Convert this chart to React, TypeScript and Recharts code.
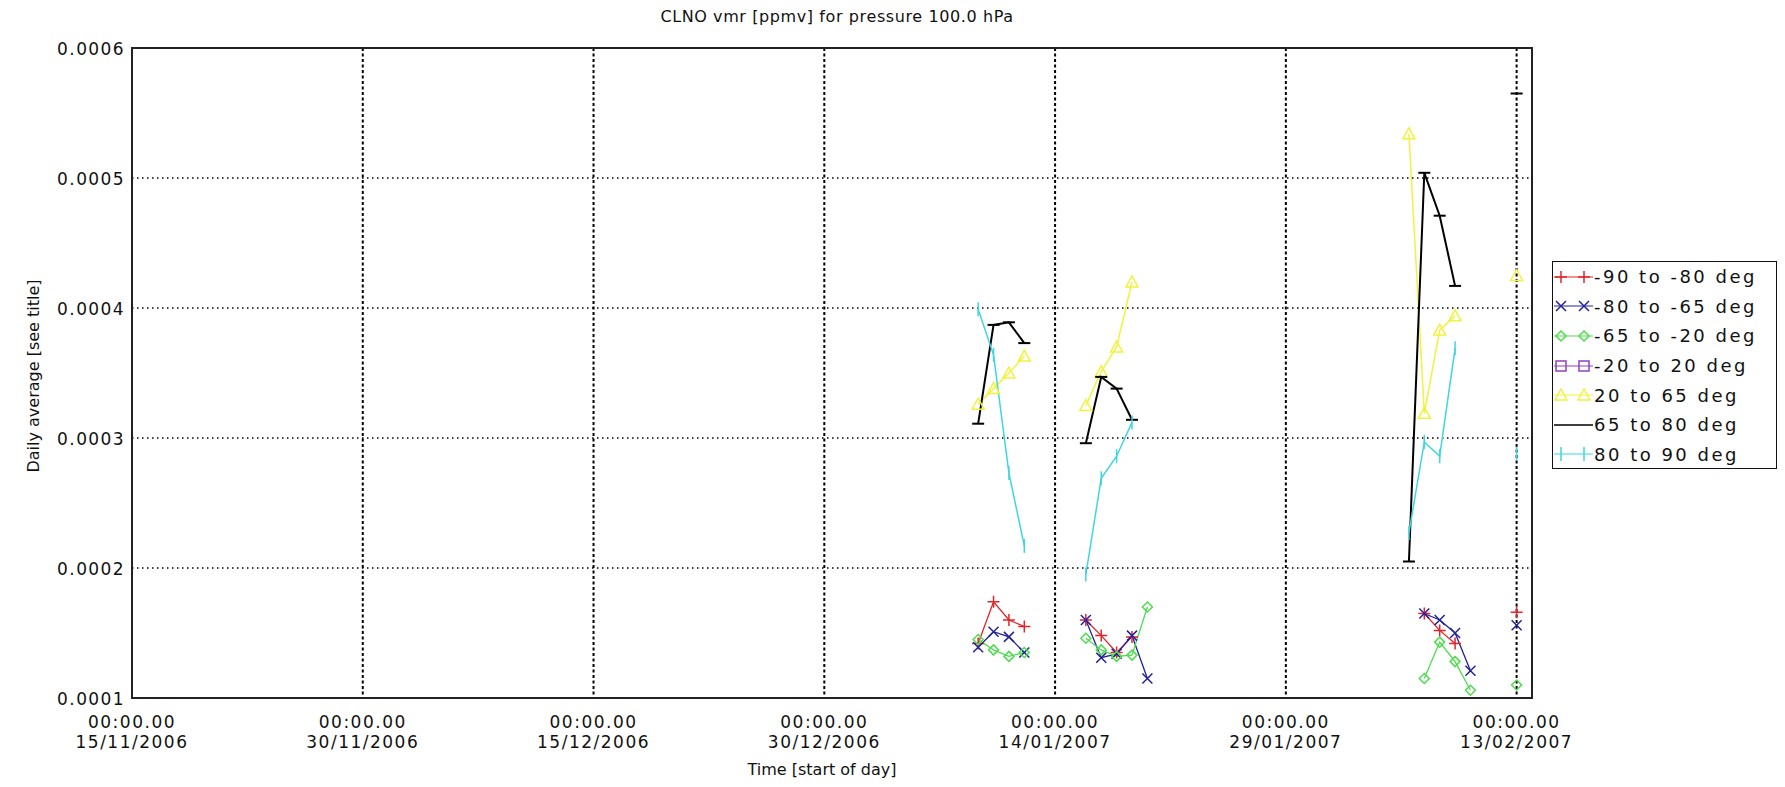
import React from 'react';
import { LineChart, Line, XAxis, YAxis, CartesianGrid, Legend, ReferenceArea } from 'recharts';

// day of each daily average (gap rows break the lines between passes)
const dates = [
  '09/01/2007', '10/01/2007', '11/01/2007', '12/01/2007', '13/01/2007',
  '16/01/2007', '17/01/2007', '18/01/2007', '19/01/2007', '20/01/2007', '21/01/2007',
  '06/02/2007', '07/02/2007', '08/02/2007', '09/02/2007', '10/02/2007', '11/02/2007',
  '13/02/2007',
];

const band90to80 = [0.000142, 0.000174, 0.00016, 0.000155, null, 0.00016, 0.000148, 0.000135, 0.000147, null, null, null, 0.000165, 0.000152, 0.000142, null, null, 0.000166];
const band80to65 = [0.000139, 0.000151, 0.000147, 0.000135, null, 0.00016, 0.000131, 0.000134, 0.000148, 0.000115, null, null, 0.000165, 0.00016, 0.00015, 0.000121, null, 0.000156];
const band65to20 = [0.000145, 0.000137, 0.000132, 0.000135, null, 0.000146, 0.000137, 0.000132, 0.000133, 0.00017, null, null, 0.000115, 0.000143, 0.000128, 0.000106, null, 0.00011];
const band20to20 = [null, null, null, null, null, null, null, null, null, null, null, null, null, null, null, null, null, null];
const band20to65 = [0.000326, 0.000338, 0.00035, 0.000363, null, 0.000325, 0.000351, 0.00037, 0.00042, null, null, 0.000534, 0.000319, 0.000383, 0.000394, null, null, 0.000425];
const band65to80 = [0.000311, 0.000387, 0.000389, 0.000373, null, 0.000296, 0.000347, 0.000338, 0.000314, null, null, 0.000205, 0.000504, 0.000471, 0.000417, null, null, 0.000565];
const band80to90 = [0.000399, 0.000364, 0.000273, 0.000217, null, 0.000195, 0.000269, 0.000286, 0.000312, null, null, 0.000227, 0.000297, 0.000286, 0.000369, null, null, 0.000288];

const tickDates = ['15/11/2006', '30/11/2006', '15/12/2006', '30/12/2006', '14/01/2007', '29/01/2007', '13/02/2007'];
const yTicks = [0.0001, 0.0002, 0.0003, 0.0004, 0.0005, 0.0006];

const toTime = (s: string) => {
  const [d, m, y] = s.split('/').map(Number);
  return Date.UTC(y, m - 1, d);
};

const series = [
  { key: 'b1', name: '-90 to -80 deg', color: '#e3242b', shape: 'plus', values: band90to80, width: 1.3 },
  { key: 'b2', name: '-80 to -65 deg', color: '#23239a', shape: 'cross', values: band80to65, width: 1.3 },
  { key: 'b3', name: '-65 to -20 deg', color: '#4fdc4f', shape: 'diamond', values: band65to20, width: 1.3 },
  { key: 'b4', name: '-20 to 20 deg', color: '#9040c0', shape: 'square', values: band20to20, width: 1.3 },
  { key: 'b5', name: '20 to 65 deg', color: '#f2f23c', shape: 'triangle', values: band20to65, width: 1.5 },
  { key: 'b6', name: '65 to 80 deg', color: '#000000', shape: 'hbar', values: band65to80, width: 2 },
  { key: 'b7', name: '80 to 90 deg', color: '#3fd6e0', shape: 'vbar', values: band80to90, width: 1.5 },
];

const data = dates.map((d, i) => {
  const row: Record<string, number | null> = { t: toTime(d) };
  series.forEach((s) => { row[s.key] = s.values[i]; });
  return row;
});

const xStart = toTime('15/11/2006');
const xEnd = toTime('14/02/2007');
const FONT = '"DejaVu Sans", sans-serif';

function Marker({ shape, x, y, color }: { shape: string; x: number; y: number; color: string }) {
  const p = { stroke: color, strokeWidth: 1.5, fill: 'none' };
  switch (shape) {
    case 'plus':
      return <path d={`M${x - 6},${y}H${x + 6}M${x},${y - 6}V${y + 6}`} {...p} />;
    case 'cross':
      return <path d={`M${x - 5},${y - 5}L${x + 5},${y + 5}M${x + 5},${y - 5}L${x - 5},${y + 5}`} {...p} />;
    case 'diamond':
      return <path d={`M${x},${y - 5}L${x + 5},${y}L${x},${y + 5}L${x - 5},${y}Z`} {...p} />;
    case 'square':
      return <rect x={x - 5} y={y - 5} width={10} height={10} {...p} />;
    case 'triangle':
      return <path d={`M${x},${y - 6}L${x + 6},${y + 5}L${x - 6},${y + 5}Z`} {...p} />;
    case 'hbar':
      return <path d={`M${x - 6},${y}H${x + 6}`} stroke={color} strokeWidth={2} />;
    case 'vbar':
      return <path d={`M${x},${y - 7}V${y + 7}`} {...p} />;
    default:
      return null;
  }
}

const makeDot = (shape: string, color: string) => (props: any) => {
  const { cx, cy, value, index } = props;
  if (value == null || cx == null || cy == null || Number.isNaN(cy)) return <g key={`e${index}`} />;
  return <Marker key={`m${index}`} shape={shape} x={cx} y={cy} color={color} />;
};

const XTick = ({ x, y, payload }: any) => {
  const d = new Date(payload.value);
  const dd = String(d.getUTCDate()).padStart(2, '0');
  const mm = String(d.getUTCMonth() + 1).padStart(2, '0');
  return (
    <text x={x} y={y} textAnchor="middle" fontSize={17} fontFamily={FONT} fill="#111" letterSpacing={1.5}>
      <tspan x={x} dy={30}>00:00.00</tspan>
      <tspan x={x} dy={20}>{`${dd}/${mm}/${d.getUTCFullYear()}`}</tspan>
    </text>
  );
};

const YTick = ({ x, y, payload }: any) => (
  <text x={x} y={y} dy={7} textAnchor="end" fontSize={17} fontFamily={FONT} fill="#111" letterSpacing={1.4}>
    {Number(payload.value).toFixed(4)}
  </text>
);

const renderLegend = () => (
  <div style={{ border: '1.5px solid #111', background: '#fff', width: 225, height: 208, boxSizing: 'border-box', paddingTop: 0 }}>
    {series.map((s) => (
      <div key={s.key} style={{ display: 'flex', alignItems: 'center', height: 29.6 }}>
        <svg width={41} height={20} style={{ display: 'block' }}>
          <line x1={1} y1={10} x2={40} y2={10} stroke={s.color} strokeWidth={s.shape === 'hbar' ? 1.5 : 1.2} />
          {s.shape !== 'hbar' && <Marker shape={s.shape} x={8} y={10} color={s.color} />}
          {s.shape !== 'hbar' && <Marker shape={s.shape} x={31} y={10} color={s.color} />}
        </svg>
        <span style={{ fontFamily: FONT, fontSize: 18, letterSpacing: 2.5, color: '#111', whiteSpace: 'nowrap' }}>{s.name}</span>
      </div>
    ))}
  </div>
);

export default function App() {
  return (
    <div style={{ position: 'absolute', left: 0, top: 0, width: 1785, height: 787, background: '#fff' }}>
      <LineChart width={1785} height={787} data={data} margin={{ top: 48, right: 253, bottom: 29, left: 32 }}>
        <CartesianGrid horizontal vertical={false} stroke="#000" strokeWidth={1.5} strokeDasharray="1.5 3.5" />
        <CartesianGrid horizontal={false} vertical stroke="#000" strokeWidth={2} strokeDasharray="3 2.5" />
        <XAxis
          dataKey="t"
          type="number"
          domain={[xStart, xEnd]}
          ticks={tickDates.map(toTime)}
          interval={0}
          allowDataOverflow
          tick={<XTick />}
          tickLine={false}
          axisLine={false}
          tickSize={0}
          tickMargin={0}
          height={60}
        />
        <YAxis
          type="number"
          domain={[0.0001, 0.0006]}
          ticks={yTicks}
          interval={0}
          allowDataOverflow
          tick={<YTick />}
          tickLine={false}
          axisLine={false}
          tickSize={0}
          tickMargin={7}
          width={100}
        />
        {series.map((s) => (
          <Line
            key={s.key}
            type="linear"
            dataKey={s.key}
            name={s.name}
            stroke={s.color}
            strokeWidth={s.width}
            dot={makeDot(s.shape, s.color)}
            activeDot={false}
            connectNulls={false}
            isAnimationActive={false}
          />
        ))}
        <ReferenceArea x1={xStart} x2={xEnd} y1={0.0001} y2={0.0006} fill="none" fillOpacity={0} stroke="#222" strokeWidth={2} />
        <Legend
          layout="vertical"
          align="center"
          verticalAlign="middle"
          content={renderLegend}
          wrapperStyle={{ position: 'absolute', left: 1552, top: 261, right: 'auto', bottom: 'auto', width: 225 }}
        />
      </LineChart>
      <div style={{ position: 'absolute', left: 0, top: 7, width: 1674, textAlign: 'center', fontFamily: FONT, fontSize: 16, lineHeight: '20px', color: '#111', letterSpacing: 0.6 }}>
        CLNO vmr [ppmv] for pressure 100.0 hPa
      </div>
      <div style={{ position: 'absolute', left: -116, top: 366, width: 300, height: 20, transform: 'rotate(-90deg)', textAlign: 'center', fontFamily: FONT, fontSize: 16, lineHeight: '20px', color: '#111' }}>
        Daily average [see title]
      </div>
      <div style={{ position: 'absolute', left: 622, top: 760, width: 400, textAlign: 'center', fontFamily: FONT, fontSize: 16, lineHeight: '20px', color: '#111' }}>
        Time [start of day]
      </div>
    </div>
  );
}
